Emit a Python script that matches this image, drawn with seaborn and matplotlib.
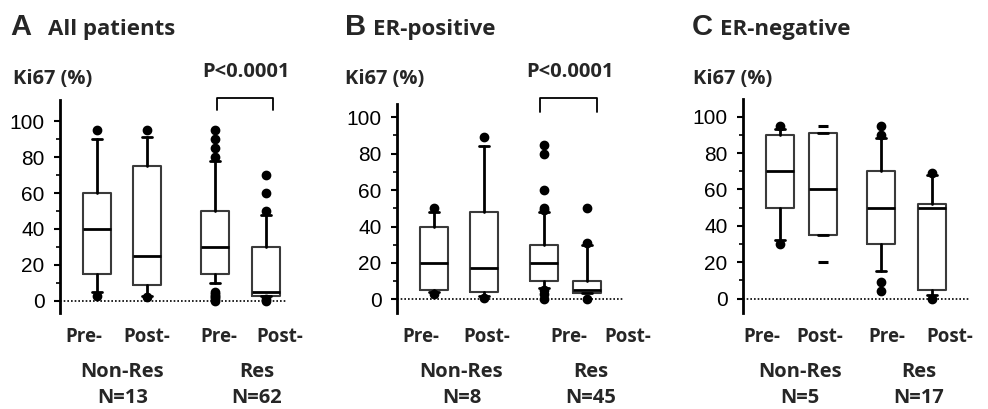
import matplotlib
matplotlib.use("Agg")
import matplotlib.pyplot as plt
import matplotlib.transforms as mtransforms
import seaborn as sns

# Box statistics (Ki67 %), order: Non-Res Pre, Non-Res Post, Res Pre, Res Post
all_q1 = [15, 9, 15, 3]
all_med = [40, 25, 30, 5]
all_q3 = [60, 75, 50, 30]
all_whislo = [5, 3, 10, 3]
all_whishi = [90, 91, 78, 48]
all_fliers = [[3, 95], [2, 95], [0, 1, 2, 3, 4, 5, 80, 85, 90, 95], [0, 1, 50, 60, 70]]

pos_q1 = [5, 4, 10, 3.5]
pos_med = [20, 17, 20, 5]
pos_q3 = [40, 48, 30, 10]
pos_whislo = [4, 2, 6, 3.5]
pos_whishi = [48, 84, 48, 30]
pos_fliers = [[3, 50], [1, 89], [0, 3, 5, 49, 50, 60, 80, 85], [0, 31, 50]]

neg_q1 = [50, 35, 30, 5]
neg_med = [70, 60, 50, 50]
neg_q3 = [90, 91, 70, 52]
neg_whislo = [32, 35, 15, 2]
neg_whishi = [93, 91, 88, 68]
neg_fliers = [[30, 95], [], [4, 9, 90, 95], [0, 69]]
neg_post_nonres_range = [20, 95]   # drawn as dashes (min / max)

x_labels = ["Pre-", "Post-", "Pre-", "Post-"]
group_labels = ["Non-Res", "Res"]
n_all = [13, 62]
n_pos = [8, 45]
n_neg = [5, 17]
p_text = "P<0.0001"

sns.set_theme(style="ticks")
plt.rcParams["font.family"] = ["Open Sans", "Liberation Sans", "DejaVu Sans"]

W, H = 988, 409
fig = plt.figure(figsize=(W / 100, H / 100), dpi=100)


def fx(px):
    return px / W


def fy(py):
    return 1 - py / H


def make_stats(q1, med, q3, lo, hi, fl):
    return [dict(q1=a, med=b, q3=c, whislo=d, whishi=e, fliers=f)
            for a, b, c, d, e, f in zip(q1, med, q3, lo, hi, fl)]


panels = [
    dict(left=60, top=100, ylim=(-6.7, 111.7), pos=[1, 2, 3.37, 4.38],
         stats=make_stats(all_q1, all_med, all_q3, all_whislo, all_whishi, all_fliers),
         letter="A", title="All patients", n=n_all,
         lab_x=[0.75, 2.0, 3.44, 4.67], grp_x=[1.52, 4.21],
         bracket=(3.40, 4.52, 106, 112.8), p_xy=(3.98, 127)),
    dict(left=397, top=104, ylim=(-7.5, 107.3), pos=[1, 2, 3.2, 4.06],
         stats=make_stats(pos_q1, pos_med, pos_q3, pos_whislo, pos_whishi, pos_fliers),
         letter="B", title="ER-positive", n=n_pos,
         lab_x=[0.75, 2.06, 3.70, 4.89], grp_x=[1.56, 4.15],
         bracket=(3.12, 4.27, 103, 110.6), p_xy=(3.72, 125)),
    dict(left=743, top=99, ylim=(-7.9, 109.7), pos=[1, 1.87, 3.03, 4.04],
         stats=make_stats(neg_q1, neg_med, neg_q3, neg_whislo, neg_whishi, neg_fliers),
         letter="C", title="ER-negative", n=n_neg,
         lab_x=[0.65, 1.80, 3.14, 4.40], grp_x=[1.41, 3.78],
         bracket=None, p_xy=None),
]

bottom_px = 313
for k, p in enumerate(panels):
    ax = fig.add_axes([fx(p["left"]), fy(bottom_px), fx(226), (bottom_px - p["top"]) / H])
    ax.set_facecolor("white")
    ax.bxp(p["stats"], positions=p["pos"], widths=0.56, capwidths=0.2,
           patch_artist=False, manage_ticks=False,
           boxprops=dict(color="#3a3a3a", linewidth=1.5),
           medianprops=dict(color="black", linewidth=2.0),
           whiskerprops=dict(color="black", linewidth=2.0),
           capprops=dict(color="black", linewidth=2.0),
           flierprops=dict(marker="o", markerfacecolor="black", markeredgecolor="black",
                           markersize=6, linestyle="none"))
    if p["letter"] == "C":
        ax.plot([p["pos"][1]] * 2, neg_post_nonres_range, linestyle="none",
                marker="_", markersize=7, markeredgewidth=2.2, color="black")
    ax.set_xlim(0.27, 4.79)
    ax.set_ylim(*p["ylim"])
    ax.axhline(0, color="black", linestyle=(0, (1, 1.2)), linewidth=1.2, zorder=0)
    sns.despine(ax=ax, bottom=True)
    ax.spines["left"].set_linewidth(2)
    ax.spines["left"].set_color("black")
    ax.set_xticks([])
    ax.set_yticks([0, 20, 40, 60, 80, 100])
    ax.set_yticks([10, 30, 50, 70, 90], minor=True)
    ax.tick_params(axis="y", which="major", length=4, width=1.5, pad=7, color="black",
                   labelsize=15, labelcolor="black")
    ax.tick_params(axis="y", which="minor", length=3, width=1.2, color="black")
    for t in ax.get_yticklabels():
        t.set_family(["Liberation Sans Narrow", "Liberation Sans", "DejaVu Sans"])

    if p["bracket"]:
        x0, x1, yb, yt = p["bracket"]
        ax.plot([x0, x0, x1, x1], [yb, yt, yt, yb], color="black", linewidth=1.3,
                clip_on=False)
        ax.text(p["p_xy"][0], p["p_xy"][1], p_text, ha="center", va="center",
                fontsize=14.5, fontweight="bold", clip_on=False)

    tr = mtransforms.blended_transform_factory(ax.transData, fig.transFigure)
    for lx, lab in zip(p["lab_x"], x_labels):
        ax.text(lx, fy(337), lab, transform=tr, ha="center", va="center",
                fontsize=13.5, fontweight="bold")
    for gx, g, n in zip(p["grp_x"], group_labels, p["n"]):
        ax.text(gx, fy(372), g, transform=tr, ha="center", va="center",
                fontsize=14.5, fontweight="bold")
        ax.text(gx, fy(398), f"N={n}", transform=tr, ha="center", va="center",
                fontsize=14.5, fontweight="bold")

    lx = [10, 345, 692][k]
    fig.text(fx(lx), fy(35), p["letter"], fontsize=21, fontweight="bold",
             family=["Liberation Sans", "DejaVu Sans"], va="baseline")
    fig.text(fx(lx + [38, 28, 28][k]), fy(35), p["title"], fontsize=16,
             fontweight="bold", va="baseline")
    fig.text(fx([13, 345, 693][k]), fy(79), "Ki67 (%)", fontsize=14.5,
             fontweight="bold", va="center")

fig.savefig("out.png", dpi=100, facecolor="white")
